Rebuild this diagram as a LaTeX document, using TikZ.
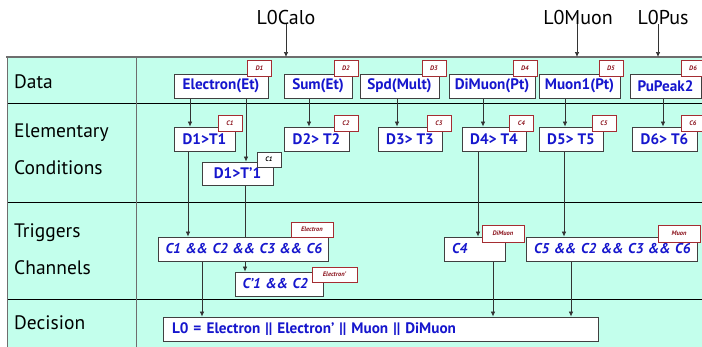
\documentclass[tikz,border=0pt]{standalone}
\usepackage{fontspec}
\setmainfont{PT Sans}
\usetikzlibrary{arrows.meta}
\pgfdeclarelayer{bg}
\pgfdeclarelayer{conn}
\pgfsetlayers{bg,conn,main}
\definecolor{mint}{RGB}{195,255,236}
\definecolor{txtblue}{RGB}{22,22,205}
\definecolor{tagred}{RGB}{165,45,50}
\definecolor{tagtxt}{RGB}{140,20,30}
\definecolor{rulegray}{RGB}{110,110,110}
\begin{document}
\begin{tikzpicture}[x=1pt,y=-1pt,
  box/.style={draw=black!75, line width=0.9pt, fill=white, inner sep=0pt,
    minimum height=24pt, font=\fontsize{15.2}{15}\selectfont\bfseries, text=txtblue},
  cbox/.style={box, font=\fontsize{14.2}{14}\selectfont\bfseries\itshape},
  tag/.style={draw=tagred, line width=0.9pt, fill=white, inner sep=0pt,
    minimum height=16pt, minimum width=24pt, font=\fontsize{6.5}{6}\selectfont\bfseries\itshape, text=tagtxt},
  btag/.style={tag, draw=black!75, text=black},
  rowlab/.style={anchor=west, inner sep=0pt, font=\fontsize{19.5}{19}\selectfont},
  toplab/.style={inner sep=0pt, font=\fontsize{20}{20}\selectfont},
  arr/.style={draw=black!80, line width=0.7pt, -{Latex[length=5pt,width=4.5pt]}}]
\useasboundingbox (0,0) rectangle (702,346);

% table
\begin{pgfonlayer}{bg}
  \fill[mint] (7,57) rectangle (712,352);
  \draw[black, line width=0.8pt] (7,103) -- (712,103) (7,202) -- (712,202) (7,299) -- (712,299);
  \draw[rulegray, line width=1pt] (7,57) -- (7,352) (136,57) -- (136,352);
  \draw[rulegray, line width=1.6pt] (6.2,57) -- (712,57);
\end{pgfonlayer}

% row labels
\node[rowlab] (ldata) at (14,82) {Data};
\node[rowlab] (lelem) at (14,133) {Elementary};
\node[rowlab] (lcond) at (14,168) {Conditions};
\node[rowlab] (ltrig) at (14,233) {Triggers};
\node[rowlab] (lchan) at (14,268) {Channels};
\node[rowlab] (ldec) at (14,323) {Decision};

% top labels
\node[toplab] (calo) at (286,17) {L0Calo};
\node[toplab] (muon) at (578,17) {L0Muon};
\node[toplab] (pus) at (663,17) {L0Pus};
\coordinate (calotop) at (286,57);
\coordinate (muontop) at (577,57);
\coordinate (pustop) at (658,57);

% data boxes
\node[box, minimum width=94pt] (e) at (221,86) {Electron(Et)};
\node[box, minimum width=68pt] (sum) at (318,86) {Sum(Et)};
\node[box, minimum width=79pt] (spd) at (399.5,86) {Spd(Mult)};
\node[box, minimum width=86pt] (dim) at (492,86) {DiMuon(Pt)};
\node[box, minimum width=81pt] (mu1) at (579.5,86) {Muon1(Pt)};
\node[box, minimum width=71pt] (pu) at (665.5,86) {PuPeak2};
\node[tag] (td1) at (259.5,68) {D1};
\node[tag] (td2) at (346,68) {D2};
\node[tag] (td3) at (434,68) {D3};
\node[tag] (td4) at (525,68) {D4};
\node[tag] (td5) at (611,68) {D5};
\node[tag] (td6) at (693,68) {D6};

% elementary conditions
\node[box, minimum width=61pt] (c1) at (204.5,139) {D1>T1};
\node[box, minimum width=65pt] (c2) at (316.5,139) {D2> T2};
\node[box, minimum width=64pt] (c3) at (410,139) {D3> T3};
\node[box, minimum width=64pt] (c4) at (494,139) {D4> T4};
\node[box, minimum width=64pt] (c5) at (571,139) {D5> T5};
\node[box, minimum width=65pt] (c6) at (664.5,139) {D6> T6};
\node[box, minimum width=71pt, minimum height=23pt] (c1p) at (237.5,173.5) {D1>T'1};
\node[tag] (tc1) at (230,123) {C1};
\node[tag] (tc2) at (346,123) {C2};
\node[tag] (tc3) at (439,123) {C3};
\node[tag] (tc4) at (521.5,123) {C4};
\node[tag] (tc5) at (604,123) {C5};
\node[tag] (tc6) at (693,123) {C6};
\node[btag, minimum height=15pt] (tc1p) at (269,159.5) {C1};

% trigger channels
\node[cbox, text width=155pt, align=left, inner xsep=7.5pt] (ele) at (243,249) {\mbox{C1 \&\& C2 \&\& C3 \&\& C6}};
\node[cbox, text width=73pt, align=left, inner xsep=7.5pt] (elep) at (279,284) {\mbox{C'1 \&\& C2}};
\node[cbox, text width=45pt, align=left, inner xsep=8pt] (dimu) at (474.5,249) {C4};
\node[cbox, text width=155pt, align=left, inner xsep=8pt] (mu) at (611.5,249) {\mbox{C5 \&\& C2 \&\& C3 \&\& C6}};
\node[tag, minimum width=42pt, minimum height=15pt] (tele) at (312,229.5) {Electron};
\node[tag, minimum width=45pt, minimum height=15pt] (telep) at (334.5,274.5) {Electron'};
\node[tag, minimum width=42pt, minimum height=17pt] (tdimu) at (503,233.5) {DiMuon};
\node[tag, minimum width=42pt, minimum height=17pt] (tmu) at (679,233.5) {Muon};

% decision
\node[box, text width=417pt, align=left, inner xsep=9pt] (dec) at (380.5,329) {L0 = Electron || Electron' || Muon || DiMuon};

% connectors
\begin{pgfonlayer}{conn}
  \draw[arr] (calo.south) -- (calotop);
  \draw[arr] (muon.south -| muontop) -- (muontop);
  \draw[arr] (pus.south -| pustop) -- (pustop);
  \draw[arr] (e.south -| 190,0) -- (c1.north -| 190,0);
  \draw[arr] (e.south -| 246,0) -- (c1p.north -| 246,0);
  \draw[arr] (sum.south -| 309,0) -- (c2.north -| 309,0);
  \draw[arr] (spd.south -| 397,0) -- (c3.north -| 397,0);
  \draw[arr] (dim.south -| 483,0) -- (c4.north -| 483,0);
  \draw[arr] (mu1.south -| 565,0) -- (c5.north -| 565,0);
  \draw[arr] (pu.south -| 663,0) -- (c6.north -| 663,0);
  \draw[arr] (c1.south -| 188,0) -- (ele.north -| 188,0);
  \draw[arr] (c1p.south -| 245,0) -- (elep.north -| 245,0);
  \draw[arr] (c4.south -| 478,0) -- (dimu.north -| 478,0);
  \draw[arr] (c5.south -| 564,0) -- (mu.north -| 564,0);
  \draw[arr] (ele.south -| 202,0) -- (dec.north -| 202,0);
  \draw[arr] (dimu.south -| 493,0) -- (dec.north -| 493,0);
  \draw[arr] (mu.south -| 571,0) -- (dec.north -| 571,0);
\end{pgfonlayer}
\end{tikzpicture}
\end{document}
